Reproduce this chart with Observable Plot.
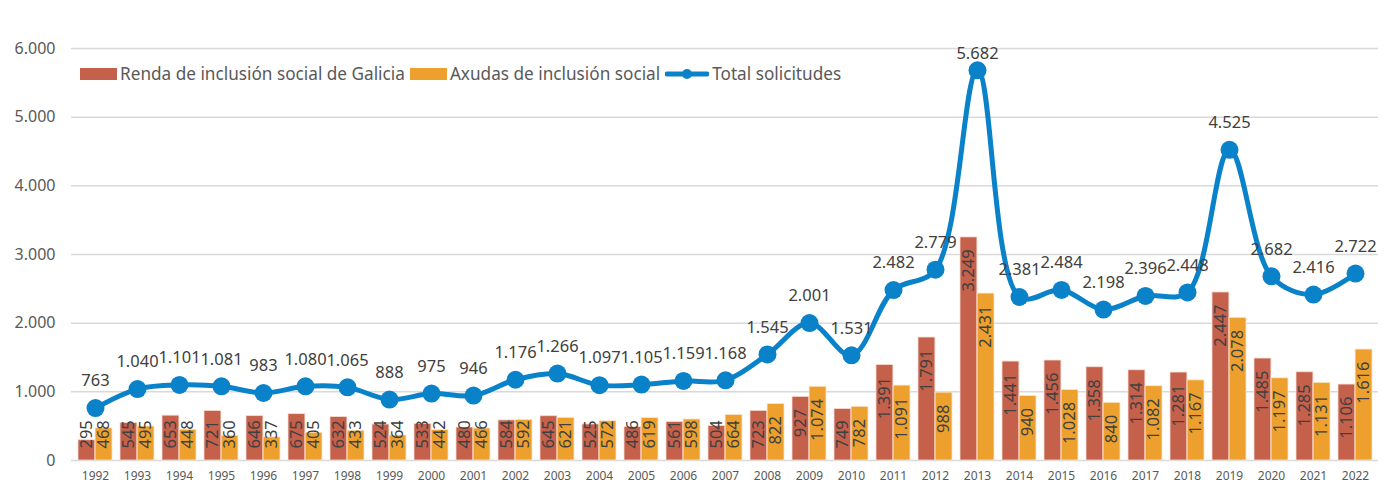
<!DOCTYPE html>
<html><head><meta charset="utf-8">
<script src="https://cdn.jsdelivr.net/npm/d3@7"></script>
<script src="https://cdn.jsdelivr.net/npm/@observablehq/plot@0.6"></script>
<style>
body{margin:0;background:#fff;font-family:"Noto Sans",sans-serif;}
#wrap{position:relative;width:1391px;height:484px;overflow:hidden;}
#legend{position:absolute;left:80px;top:62px;display:flex;align-items:center;font-size:17.2px;color:#595959;white-space:nowrap;}
#legend .item{display:flex;align-items:center;margin-right:5px;}
#legend .sw{display:inline-block;width:37px;height:12px;margin-right:3px;}
#legend svg{margin-right:3px;}
</style></head><body><div id="wrap"><div id="legend"></div></div>
<script>
const years = [1992,1993,1994,1995,1996,1997,1998,1999,2000,2001,2002,2003,2004,2005,2006,2007,2008,2009,2010,2011,2012,2013,2014,2015,2016,2017,2018,2019,2020,2021,2022];
const renda = [295,545,653,721,646,675,632,524,533,480,584,645,525,486,561,504,723,927,749,1391,1791,3249,1441,1456,1358,1314,1281,2447,1485,1285,1106];
const axudas = [468,495,448,360,337,405,433,364,442,466,592,621,572,619,598,664,822,1074,782,1091,988,2431,940,1028,840,1082,1167,2078,1197,1131,1616];
const total = [763,1040,1101,1081,983,1080,1065,888,975,946,1176,1266,1097,1105,1159,1168,1545,2001,1531,2482,2779,5682,2381,2484,2198,2396,2448,4525,2682,2416,2722];
const yTicks = [0,1000,2000,3000,4000,5000,6000];
const seriesNames = ["Renda de inclusión social de Galicia","Axudas de inclusión social","Total solicitudes"];
const colors = ["#C5614B","#EDA02E","#0A82C9"];

const W = 1391, H = 484, ML = 71, MR = 13, MT = 48, MB = 24;
const yMax = 6000;
const FS = 16.5;
const k = (H - MT - MB) / yMax;           // px per unit
const bw = (W - ML - MR) / years.length;  // band width
const edge = 4, half = bw / 2;
const loc = d3.formatLocale({decimal: ",", thousands: ".", grouping: [3]});
const fmt = v => v === 0 ? "0" : loc.format(",d")(v);

const ctx = document.createElement("canvas").getContext("2d");
ctx.font = FS + "px 'Noto Sans'";
const tw = s => ctx.measureText(s).width;

const yStr = years.map(String);
function barRows(vals, name) {
  return vals.map((v, i) => {
    const t = fmt(v);
    const h = Math.max(v * k - 12, 12 + tw(t));
    return {year: yStr[i], serie: name, value: v, label: t, ly: h / k};
  });
}
const rRows = barRows(renda, seriesNames[0]);
const aRows = barRows(axudas, seriesNames[1]);
const tRows = total.map((v, i) => ({year: yStr[i], value: v, label: fmt(v), ly: Math.min(v + 27 / k, yMax - 5 / k)}));

const chart = Plot.plot({
  width: W, height: H,
  marginLeft: ML, marginRight: MR, marginTop: MT, marginBottom: MB,
  style: {fontFamily: "'Noto Sans', sans-serif", color: "#595959", background: "transparent", overflow: "visible"},
  x: {type: "band", domain: yStr, padding: 0, label: null},
  y: {domain: [0, yMax], label: null},
  marks: [
    Plot.ruleY(yTicks, {stroke: "#d9d9d9", strokeWidth: 1.5}),
    Plot.axisY(yTicks, {tickSize: 0, tickPadding: 16, tickFormat: fmt, fontSize: 16, fill: "#595959", label: null}),
    Plot.axisX({tickSize: 0, tickPadding: 11, fontSize: 12, fill: "#595959", label: null}),
    Plot.barY(rRows, {x: "year", y: "value", fill: colors[0], insetLeft: edge, insetRight: half, stroke: "#f6dcd2", strokeWidth: 0.8}),
    Plot.barY(aRows, {x: "year", y: "value", fill: colors[1], insetLeft: half, insetRight: edge, stroke: "#fbe6cc", strokeWidth: 0.8}),
    Plot.text(rRows, {x: "year", y: "ly", text: "label", rotate: -90, textAnchor: "end", lineAnchor: "middle", dx: (edge - half) / 2, fontSize: FS, fill: "#404040"}),
    Plot.text(aRows, {x: "year", y: "ly", text: "label", rotate: -90, textAnchor: "end", lineAnchor: "middle", dx: (half - edge) / 2, fontSize: FS, fill: "#404040"}),
    Plot.line(tRows, {x: "year", y: "value", stroke: colors[2], strokeWidth: 5, curve: "catmull-rom"}),
    Plot.dot(tRows, {x: "year", y: "value", r: 9, fill: colors[2]}),
    Plot.text(tRows, {x: "year", y: "ly", text: "label", fontSize: FS, fill: "#404040", lineAnchor: "middle"})
  ]
});
document.getElementById("wrap").prepend(chart);

const lg = document.getElementById("legend");
seriesNames.forEach((name, i) => {
  const it = document.createElement("span");
  it.className = "item";
  if (i < 2) {
    const sw = document.createElement("span");
    sw.className = "sw"; sw.style.background = colors[i];
    it.appendChild(sw);
  } else {
    const ns = "http://www.w3.org/2000/svg";
    const s = document.createElementNS(ns, "svg");
    s.setAttribute("width", 44); s.setAttribute("height", 14);
    const l = document.createElementNS(ns, "line");
    l.setAttribute("x1", 2); l.setAttribute("x2", 42); l.setAttribute("y1", 7); l.setAttribute("y2", 7);
    l.setAttribute("stroke", colors[2]); l.setAttribute("stroke-width", 5); l.setAttribute("stroke-linecap", "round");
    const c = document.createElementNS(ns, "circle");
    c.setAttribute("cx", 22); c.setAttribute("cy", 7); c.setAttribute("r", 5); c.setAttribute("fill", colors[2]);
    s.appendChild(l); s.appendChild(c);
    it.appendChild(s);
  }
  const t = document.createElement("span");
  t.textContent = name;
  it.appendChild(t);
  lg.appendChild(it);
});
</script></body></html>
